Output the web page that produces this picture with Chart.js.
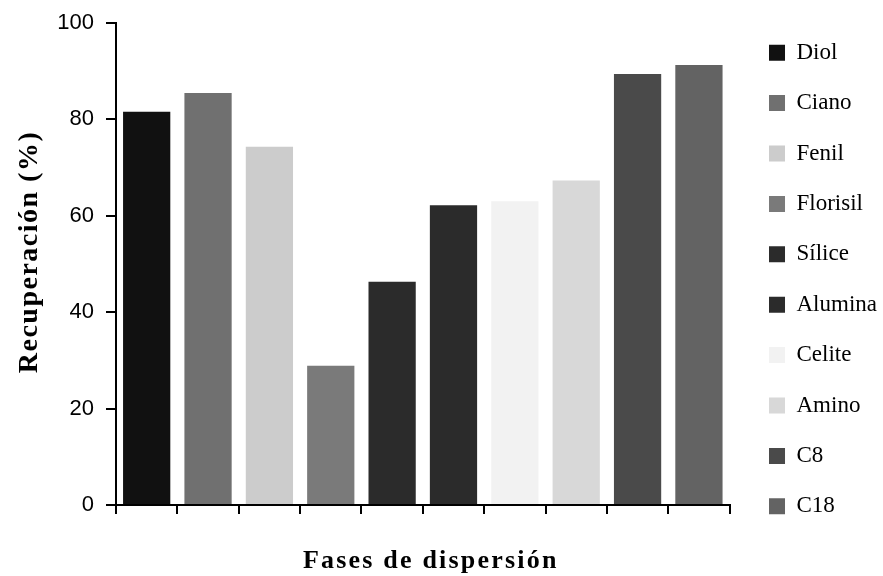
<!DOCTYPE html>
<html>
<head>
<meta charset="utf-8">
<script src="https://cdn.jsdelivr.net/npm/chart.js@4.4.1/dist/chart.umd.min.js"></script>
<style>
  html, body { margin: 0; padding: 0; background: #fff; }
  #wrap { width: 883px; height: 576px; }
</style>
</head>
<body>
<div id="wrap"><canvas id="chart" width="883" height="576"></canvas></div>
<script>
// fases de dispersión y su recuperación (%)
const fases = ['Diol', 'Ciano', 'Fenil', 'Florisil', 'Sílice', 'Alumina', 'Celite', 'Amino', 'C8', 'C18'];
const recuperacion = [81.6, 85.5, 74.3, 28.9, 46.3, 62.2, 63.0, 67.3, 89.4, 91.3];
const colores = ['#111111', '#707070', '#cccccc', '#7a7a7a', '#2b2b2b', '#2b2b2b', '#f2f2f2', '#d8d8d8', '#4a4a4a', '#636363'];
const yTicks = [0, 20, 40, 60, 80, 100];
const xTitle = 'Fases de dispersión';
const yTitle = 'Recuperación (%)';

// una serie por fase, cada una solo en su categoría
const datasets = fases.map((nombre, i) => ({
    label: nombre,
    data: fases.map((_, j) => (j === i ? recuperacion[i] : null)),
    backgroundColor: colores[i],
    borderWidth: 0
}));

// títulos de ejes con espaciado entre letras
const axisTitles = {
    id: 'axisTitles',
    afterDraw(chart) {
        const { ctx, chartArea } = chart;
        ctx.save();
        ctx.fillStyle = '#000';
        ctx.textAlign = 'center';
        ctx.textBaseline = 'alphabetic';
        ctx.font = 'bold 26px "Liberation Serif"';
        ctx.letterSpacing = '2.2px';
        ctx.fillText(xTitle, (chartArea.left + chartArea.right) / 2 + 8, 568);
        ctx.translate(37, (chartArea.top + chartArea.bottom) / 2 - 12);
        ctx.rotate(-Math.PI / 2);
        ctx.font = 'bold 28px "Liberation Serif"';
        ctx.letterSpacing = '1.5px';
        ctx.fillText(yTitle, 0, 0);
        ctx.restore();
    }
};

// mover la leyenda un poco (derecha y arriba)
const legendShift = {
    id: 'legendShift',
    afterLayout(chart) {
        const l = chart.legend;
        l.left += 12; l.right += 12;
        l.top -= 20; l.bottom -= 20;
    }
};

new Chart(document.getElementById('chart'), {
    type: 'bar',
    data: { labels: fases, datasets: datasets },
    options: {
        responsive: false,
        animation: false,
        devicePixelRatio: 1,
        skipNull: true,
        categoryPercentage: 1,
        barPercentage: 0.77,
        layout: { padding: { top: 23, left: 0, right: 8, bottom: 0 } },
        plugins: {
            tooltip: { enabled: false },
            legend: {
                position: 'right',
                labels: {
                    boxWidth: 16,
                    boxHeight: 16,
                    padding: 27.4,
                    color: '#000',
                    font: { family: '"Liberation Serif"', size: 23 }
                }
            }
        },
        scales: {
            x: {
                offset: true,
                ticks: { display: false },
                grid: { offset: true, drawOnChartArea: false, drawTicks: true, tickLength: 9, color: '#000', lineWidth: 2 },
                border: { display: true, color: '#000', width: 2 },
                afterFit(scale) {
                    scale.height = 71;
                    scale.paddingLeft = 0;
                    scale.paddingRight = 0;
                }
            },
            y: {
                min: 0,
                max: 100,
                afterBuildTicks(scale) {
                    scale.ticks = yTicks.map(v => ({ value: v }));
                },
                ticks: {
                    padding: 12,
                    color: '#000',
                    font: { family: '"Liberation Sans"', size: 22 }
                },
                grid: { drawOnChartArea: false, drawTicks: true, tickLength: 10, color: '#000', lineWidth: 2 },
                border: { display: true, color: '#000', width: 2 },
                afterFit(scale) {
                    scale.width = 116;
                    scale.paddingTop = 0;
                    scale.paddingBottom = 0;
                }
            }
        }
    },
    plugins: [axisTitles, legendShift]
});
</script>
</body>
</html>
